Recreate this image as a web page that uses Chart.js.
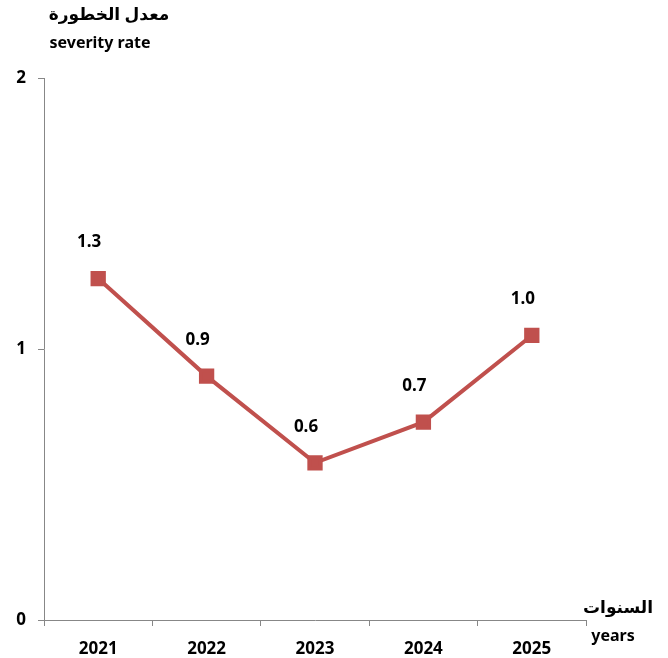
<!DOCTYPE html>
<html lang="ar">
<head>
<meta charset="UTF-8">
<title>severity rate</title>
<script src="https://cdn.jsdelivr.net/npm/chart.js"></script>
<style>
  body { margin: 0; background: #fff; }
  canvas { display: block; }
</style>
</head>
<body>
<canvas id="chart" width="668" height="658"></canvas>
<script>
const years = ["2021", "2022", "2023", "2024", "2025"];
const severity = [1.26, 0.9, 0.58, 0.73, 1.05];
const severityLabels = ["1.3", "0.9", "0.6", "0.7", "1.0"];
const yTicks = [0, 1, 2];

const FONT = "'Noto Sans', 'DejaVu Sans', sans-serif";
const axisGray = "#878787";
const lineRed = "#C0504D";

// titles and value labels drawn as text on the canvas
const textPlugin = {
  id: "texts",
  afterDatasetsDraw(chart) {
    const ctx = chart.ctx;
    ctx.save();
    ctx.fillStyle = "#000";
    ctx.textAlign = "center";
    ctx.textBaseline = "middle";
    ctx.font = "bold 17px " + FONT;
    const meta = chart.getDatasetMeta(0);
    meta.data.forEach((pt, i) => {
      ctx.fillText(severityLabels[i], pt.x - 9, pt.y - 36);
    });
    ctx.font = "bold 17px " + FONT;
    ctx.fillText("معدل الخطورة", 109, 15);
    ctx.fillText("السنوات", 618, 608);
    ctx.font = "bold 16px " + FONT;
    ctx.fillText("severity rate", 100, 43);
    ctx.fillText("years", 613, 636);
    ctx.restore();
  }
};

new Chart(document.getElementById("chart"), {
  type: "line",
  data: {
    labels: years,
    datasets: [{
      data: severity,
      borderColor: lineRed,
      backgroundColor: lineRed,
      borderWidth: 4,
      pointStyle: "rect",
      pointRadius: 8,
      pointHoverRadius: 8,
      tension: 0
    }]
  },
  options: {
    responsive: false,
    animation: false,
    layout: { padding: { top: 78, right: 82, left: 0, bottom: 0 } },
    plugins: { legend: { display: false }, tooltip: { enabled: false } },
    scales: {
      x: {
        offset: true,
        grid: { offset: true, drawOnChartArea: false, tickLength: 6, color: axisGray },
        border: { color: axisGray, width: 1 },
        ticks: { color: "#000", font: { family: FONT, size: 17, weight: "bold" }, padding: 13, maxRotation: 0 },
        afterFit(scale) { scale.height = 38; }
      },
      y: {
        min: 0,
        max: 2,
        afterBuildTicks(scale) { scale.ticks = yTicks.map(v => ({ value: v })); },
        grid: { drawOnChartArea: false, tickLength: 6, color: axisGray },
        border: { color: axisGray, width: 1 },
        ticks: { color: "#000", font: { family: FONT, size: 17, weight: "bold" }, padding: 12 },
        afterFit(scale) { scale.width = 44; }
      }
    }
  },
  plugins: [textPlugin]
});
</script>
</body>
</html>
